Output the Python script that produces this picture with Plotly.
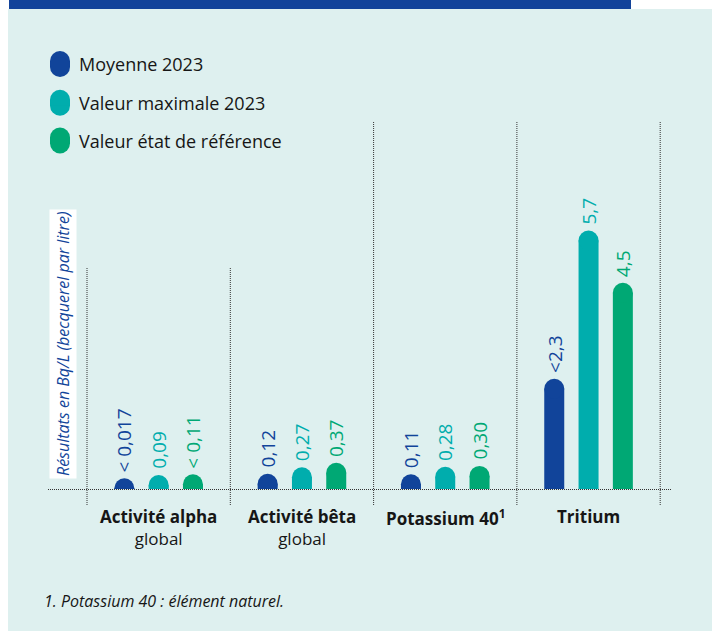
import plotly.graph_objects as go

# ---- data -----------------------------------------------------------------
groups = ["Activité alpha", "Activité bêta", "Potassium 40<sup>1</sup>", "Tritium"]
group_sub = ["global", "global", "", ""]
series = ["Moyenne 2023", "Valeur maximale 2023", "Valeur état de référence"]

moyenne = [0.017, 0.12, 0.11, 2.3]
maximale = [0.09, 0.27, 0.28, 5.7]
reference = [0.11, 0.37, 0.30, 4.5]

labels_moyenne = ["< 0,017", "0,12", "0,11", "<2,3"]
labels_maximale = ["0,09", "0,27", "0,28", "5,7"]
labels_reference = ["< 0,11", "0,37", "0,30", "4,5"]

footnote = "1. Potassium 40 : élément naturel."
y_title = "Résultats en Bq/L (becquerel par litre)"

# ---- style / layout -------------------------------------------------------
BLUE, CYAN, GREEN = "#11449A", "#00ADAD", "#00A874"
BG, BAND, INK = "#DEF0EF", "#12439A", "#161616"
FONT = "Open Sans"

W, H = 712, 631
L, R, T, B = 48, 40, 100, 142
PW, PH = W - L - R, H - T - B
PX_PER_UNIT = 43.6           # vertical scale (pixels per Bq/L)
BAR_W = 20                   # bar width in pixels
GROUP_X0, GROUP_W = 87, 143.3
BAR_STEP = 34.3


def px2x(px):
    return (px - L) / PW


def py2y(py):
    return (H - B - py) / PH


centers = [GROUP_X0 + GROUP_W * (i + 0.5) for i in range(len(groups))]
dividers = [GROUP_X0 + GROUP_W * i for i in range(len(groups) + 1)]

fig = go.Figure()
annotations = []

series_data = [
    (series[0], moyenne, labels_moyenne, BLUE),
    (series[1], maximale, labels_maximale, CYAN),
    (series[2], reference, labels_reference, GREEN),
]

for j, (name, vals, labs, col) in enumerate(series_data):
    xs = [c + (j - 1) * BAR_STEP for c in centers]
    # bar body
    fig.add_trace(go.Bar(
        x=xs, y=vals, width=BAR_W, name=name,
        marker=dict(color=col, line=dict(width=0)),
        hoverinfo="skip", showlegend=False,
    ))
    # rounded cap on top of each bar
    fig.add_trace(go.Scatter(
        x=xs, y=vals, mode="markers", name=name,
        marker=dict(size=BAR_W, color=col, line=dict(width=0)),
        cliponaxis=True, hoverinfo="skip", showlegend=False,
    ))
    for x, v, t in zip(xs, vals, labs):
        annotations.append(dict(
            x=x, y=v, xref="x", yref="y", text=t, showarrow=False,
            textangle=-90, xanchor="center", yanchor="bottom",
            yshift=BAR_W / 2 + 4,
            font=dict(family=FONT, size=19, color=col),
        ))

# category labels under each group
for c, g, s in zip(centers, groups, group_sub):
    txt = f"<b>{g}</b>" + (f"<br>{s}" if s else "")
    annotations.append(dict(
        x=c, y=py2y(503), xref="x", yref="paper", text=txt, showarrow=False,
        xanchor="center", yanchor="top", align="center",
        font=dict(family=FONT, size=17, color=INK),
    ))

shapes = []
# page background and top band
shapes.append(dict(type="rect", xref="paper", yref="paper", layer="below",
                   x0=px2x(8), x1=px2x(W), y0=py2y(H), y1=py2y(9),
                   fillcolor=BG, line=dict(width=0)))
shapes.append(dict(type="rect", xref="paper", yref="paper", layer="below",
                   x0=px2x(9), x1=px2x(631), y0=py2y(9), y1=py2y(0),
                   fillcolor=BAND, line=dict(width=0)))

# legend (pill markers + labels)
legend_rows = [64, 102.7, 140.5]
for (name, _, _, col), cy in zip(series_data, legend_rows):
    top, bot = cy - 13, cy + 13
    shapes.append(dict(type="circle", xref="paper", yref="paper",
                       x0=px2x(50), x1=px2x(70), y0=py2y(top + 20), y1=py2y(top),
                       fillcolor=col, line=dict(width=0)))
    shapes.append(dict(type="circle", xref="paper", yref="paper",
                       x0=px2x(50), x1=px2x(70), y0=py2y(bot), y1=py2y(bot - 20),
                       fillcolor=col, line=dict(width=0)))
    shapes.append(dict(type="rect", xref="paper", yref="paper",
                       x0=px2x(50), x1=px2x(70), y0=py2y(bot - 10), y1=py2y(top + 10),
                       fillcolor=col, line=dict(width=0)))
    annotations.append(dict(
        x=px2x(77), y=py2y(cy), xref="paper", yref="paper", text=name,
        showarrow=False, xanchor="left", yanchor="middle",
        font=dict(family=FONT, size=18, color=INK),
    ))

# dotted group separators and baseline
DOT = dict(color="#333333", width=1, dash="1px,1px")
for i, d in enumerate(dividers):
    top = 267 if i < 2 else 121
    shapes.append(dict(type="line", xref="x", yref="paper",
                       x0=d, x1=d, y0=py2y(505), y1=py2y(top), line=DOT))
shapes.append(dict(type="line", xref="paper", yref="paper",
                   x0=0, x1=1, y0=py2y(489.5), y1=py2y(489.5), line=DOT))

# axis title on a white strip
annotations.append(dict(
    x=px2x(63), y=py2y(344), xref="paper", yref="paper", text=y_title,
    showarrow=False, textangle=-90, xanchor="center", yanchor="middle",
    bgcolor="white", borderpad=2,
    font=dict(family=FONT, size=16, color=BLUE, style="italic"),
))

# footnote
annotations.append(dict(
    x=px2x(42), y=py2y(601), xref="paper", yref="paper", text=footnote,
    showarrow=False, xanchor="left", yanchor="middle",
    font=dict(family=FONT, size=16, color=INK, style="italic"),
))

fig.update_layout(
    width=W, height=H,
    margin=dict(l=L, r=R, t=T, b=B, pad=0),
    paper_bgcolor="white", plot_bgcolor="rgba(0,0,0,0)",
    barmode="overlay", showlegend=False,
    xaxis=dict(range=[L, W - R], visible=False, fixedrange=True),
    yaxis=dict(range=[0, PH / PX_PER_UNIT], visible=False, fixedrange=True),
    shapes=shapes, annotations=annotations,
)

fig.write_html("out.html")
